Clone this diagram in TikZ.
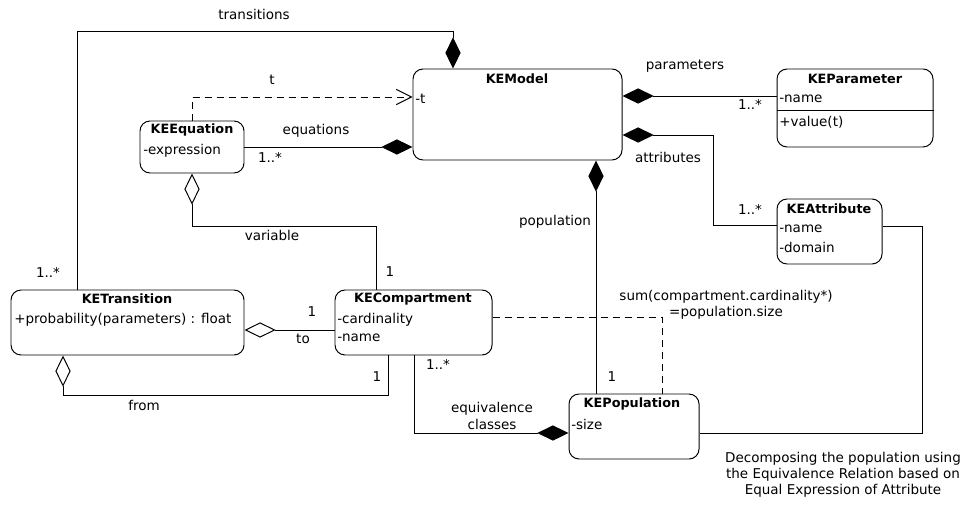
\documentclass[tikz,border=0pt]{standalone}
\usepackage{fontspec}
\setmainfont{DejaVu Sans}
\usetikzlibrary{arrows.meta,fit,positioning}

\tikzset{
  klass/.style={draw,line width=0.7pt,rounded corners=2.5mm,inner sep=0pt},
  ktitle/.style={font=\fontsize{9.1}{11}\selectfont\bfseries},
  kattr/.style={anchor=west,inner sep=0pt},
  assoc/.style={line width=0.7pt},
  compo/.style={assoc,-{Diamond[length=7.8mm,width=3.8mm]}},
  aggr/.style={assoc,-{Diamond[open,length=7.8mm,width=3.8mm]}},
  dep/.style={assoc,dash pattern=on 1.75mm off 1.25mm},
}

\begin{document}
\begin{tikzpicture}[x=0.025cm,y=-0.025cm,font=\fontsize{9.6}{11.5}\selectfont]
  \useasboundingbox (0,0) rectangle (977,511);

  % classes
  \node[klass,fit={(413,69) (622,160)}] (model) {};
  \node[klass,fit={(140,121) (244,173)}] (eqn) {};
  \node[klass,fit={(777,69) (933,147)}] (param) {};
  \node[klass,fit={(777,199) (882,264)}] (attr) {};
  \node[klass,fit={(11,290) (244,355)}] (trans) {};
  \node[klass,fit={(335,290) (492,355)}] (comp) {};
  \node[klass,fit={(569,394) (699,459)}] (pop) {};

  \node[ktitle] (modeltitle) at (517,79) {KEModel};
  \node[kattr] (modelt) at (415,99) {-t};
  \node[ktitle] (eqntitle) at (192,130) {KEEquation};
  \node[kattr] (eqnexpr) at (143,151) {-expression};
  \node[ktitle] (paramtitle) at (855,79) {KEParameter};
  \node[kattr] (paramname) at (779,99) {-name};
  \draw[assoc] (param.west |- 0,110) -- (param.east |- 0,110);
  \node[kattr] (paramval) at (779,122) {+value(t)};
  \node[ktitle] (attrtitle) at (829,209) {KEAttribute};
  \node[kattr] (attrname) at (779,229) {-name};
  \node[kattr] (attrdom) at (779,247) {-domain};
  \node[ktitle] (transtitle) at (127,299) {KETransition};
  \node[kattr] (transprob) at (14,320) {+probability(parameters) : float};
  \node[ktitle] (comptitle) at (413,299) {KECompartment};
  \node[kattr] (compcard) at (337,320) {-cardinality};
  \node[kattr] (compname) at (337,338) {-name};
  \node[ktitle] (poptitle) at (632,404) {KEPopulation};
  \node[kattr] (popsize) at (571,424) {-size};

  % connectors
  \draw[compo] (trans.north -| 77,0) |- (453,31) -- (model.north -| 453,0);
  \draw[dep,-{Straight Barb[length=3.8mm,width=3.8mm]}] (eqn.north) |- (model.west |- 0,97);
  \draw[compo] (eqn.east) -- (model.west |- eqn.east);
  \draw[compo] (param.west |- 0,96) -- (model.east |- 0,96);
  \draw[compo] (attr.west |- 0,225) -| (713,135) -- (model.east |- 0,135);
  \draw[assoc] (attr.east |- 0,226) -| (922,433) -- (pop.east |- 0,433);
  \draw[compo] (pop.north -| 596,0) -- (model.south -| 596,0);
  \draw[dep] (comp.east |- 0,317) -| (pop.north -| 662,0);
  \draw[aggr] (comp.west |- 0,330) -- (trans.east |- 0,330);
  \draw[aggr] (comp.south -| 388,0) |- (63,395) -- (trans.south -| 63,0);
  \draw[aggr] (comp.north -| 376,0) |- (192,226) -- (eqn.south);
  \draw[compo] (comp.south -| 414,0) |- (pop.west |- 0,433);

  % labels
  \node (ltrans) at (254,14) {transitions};
  \node (lt) at (272,80) {t};
  \node (leqn) at (316,131) {equations};
  \node (leqnm) at (270,157) {1..*};
  \node (lparam) at (685,66) {parameters};
  \node (lparamm) at (750,104) {1..*};
  \node (lattr) at (668,157) {attributes};
  \node (lattrm) at (750,209) {1..*};
  \node (lpop) at (555,222) {population};
  \node (lvar) at (272,235) {variable};
  \node (lvarm) at (390,272) {1};
  \node (ltransm) at (48,272) {1..*};
  \node (ltom) at (312,312) {1};
  \node (lto) at (303,339) {to};
  \node (lequivm) at (438,364) {1..*};
  \node (lfromm) at (377,377) {1};
  \node (lfrom) at (144,405) {from};
  \node[align=center] (lequiv) at (492,416) {equivalence\\classes};
  \node[align=center] (lsum) at (726,305) {sum(compartment.cardinality*)\\=population.size};
  \node (lpopm) at (612,377) {1};
  \node[align=center] (note) at (843,475) {Decomposing the population using\\the Equivalence Relation based on\\Equal Expression of Attribute};
\end{tikzpicture}
\end{document}
